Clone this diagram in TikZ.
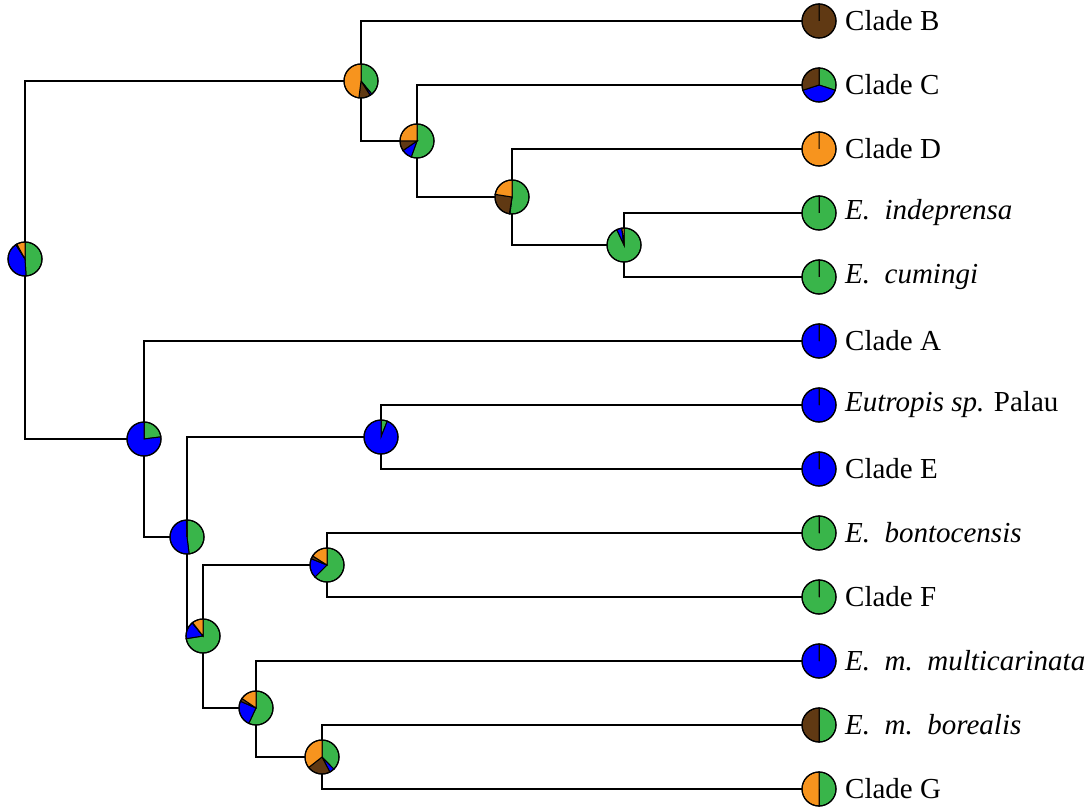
\documentclass[tikz,border=0pt]{standalone}
\usepackage{fontspec}
\setmainfont{Liberation Serif}
\definecolor{pgreen}{RGB}{57,181,74}
\definecolor{pblue}{RGB}{0,0,255}
\definecolor{pbrown}{RGB}{96,57,19}
\definecolor{porange}{RGB}{247,148,30}
\newcommand\pr{17}
\newcommand\myslice[4]{%
  \pgfmathsetmacro\sa{-90+360*#2}%
  \pgfmathsetmacro\ea{-90+360*#3}%
  \filldraw[fill=#4, draw=black, line width=1pt] (#1) -- ++(\sa:\pr) arc[start angle=\sa, end angle=\ea, radius=\pr] -- cycle;}
\newcommand\mypie[5]{%
  \pgfmathsetmacro\ca{#2}%
  \pgfmathsetmacro\cb{#2+#3}%
  \pgfmathsetmacro\cc{#2+#3+#4}%
  \edef\tmpa{\ca}\edef\tmpb{\cb}\edef\tmpc{\cc}%
  \myslice{#1}{0}{\tmpa}{pgreen}%
  \myslice{#1}{\tmpa}{\tmpb}{pblue}%
  \myslice{#1}{\tmpb}{\tmpc}{pbrown}%
  \myslice{#1}{\tmpc}{1}{porange}%
  \draw[line width=1.2pt] (#1) circle[radius=\pr];}
\tikzset{
  edge/.style={line width=2pt, line cap=rect},
  lab/.style={anchor=west, inner sep=0pt, font=\fontsize{29}{32}\selectfont}
}
\begin{document}
\begin{tikzpicture}[x=1pt,y=-1pt]
\useasboundingbox (0,0) rectangle (1087,810);
% tips
\coordinate (tB) at (819,21);
\coordinate (tC) at (819,85);
\coordinate (tD) at (819,149);
\coordinate (tI) at (819,213);
\coordinate (tCu) at (819,277);
\coordinate (tA) at (819,341);
\coordinate (tP) at (819,405);
\coordinate (tE) at (819,469);
\coordinate (tBo) at (819,533);
\coordinate (tF) at (819,597);
\coordinate (tM) at (819,661);
\coordinate (tBr) at (819,725);
\coordinate (tG) at (819,789);
% internal nodes
\coordinate (root) at (25,259);
\coordinate (n2) at (361,81);
\coordinate (n3) at (417,141);
\coordinate (n4) at (512,197);
\coordinate (n5) at (624,245);
\coordinate (n6) at (144,439);
\coordinate (n8) at (187,537);
\coordinate (n7) at (381,437);
\coordinate (n10) at (203,636);
\coordinate (n9) at (327,565);
\coordinate (n11) at (256,708);
\coordinate (n12) at (322,757);
% edges
\draw[edge] (root) |- (n2);
\draw[edge] (root) |- (n6);
\draw[edge] (n2) |- (tB);
\draw[edge] (n2) |- (n3);
\draw[edge] (n3) |- (tC);
\draw[edge] (n3) |- (n4);
\draw[edge] (n4) |- (tD);
\draw[edge] (n4) |- (n5);
\draw[edge] (n5) |- (tI);
\draw[edge] (n5) |- (tCu);
\draw[edge] (n6) |- (tA);
\draw[edge] (n6) |- (n8);
\draw[edge] (n8) |- (n7);
\draw[edge] (n8) |- (n10);
\draw[edge] (n7) |- (tP);
\draw[edge] (n7) |- (tE);
\draw[edge] (n10) |- (n9);
\draw[edge] (n10) |- (n11);
\draw[edge] (n9) |- (tBo);
\draw[edge] (n9) |- (tF);
\draw[edge] (n11) |- (tM);
\draw[edge] (n11) |- (n12);
\draw[edge] (n12) |- (tBr);
\draw[edge] (n12) |- (tG);
% internal pies: green, blue, brown, orange (clockwise from top)
\mypie{root}{0.49}{0.42}{0.01}{0.08}
\mypie{n2}{0.39}{0.02}{0.11}{0.48}
\mypie{n3}{0.555}{0.10}{0.095}{0.25}
\mypie{n4}{0.52}{0.005}{0.25}{0.225}
\mypie{n5}{0.93}{0.05}{0.0}{0.02}
\mypie{n6}{0.23}{0.77}{0.0}{0.0}
\mypie{n7}{0.06}{0.94}{0.0}{0.0}
\mypie{n8}{0.48}{0.515}{0.0}{0.005}
\mypie{n9}{0.625}{0.185}{0.03}{0.16}
\mypie{n10}{0.725}{0.165}{0.005}{0.105}
\mypie{n11}{0.57}{0.245}{0.03}{0.155}
\mypie{n12}{0.377}{0.047}{0.22}{0.356}
% tip pies
\mypie{tB}{0}{0}{1}{0}
\mypie{tC}{0.30}{0.40}{0.30}{0}
\mypie{tD}{0}{0}{0}{1}
\mypie{tI}{1}{0}{0}{0}
\mypie{tCu}{1}{0}{0}{0}
\mypie{tA}{0}{1}{0}{0}
\mypie{tP}{0}{1}{0}{0}
\mypie{tE}{0}{1}{0}{0}
\mypie{tBo}{1}{0}{0}{0}
\mypie{tF}{1}{0}{0}{0}
\mypie{tM}{0}{1}{0}{0}
\mypie{tBr}{0.5}{0}{0.5}{0}
\mypie{tG}{0.5}{0}{0}{0.5}
% labels
\node[lab] (lB) at (845,21) {Clade B};
\node[lab] (lC) at (845,85) {Clade C};
\node[lab] (lD) at (845,149) {Clade D};
\node[lab] (lI) at (845,213) {\textit{E.\ \ indeprensa}};
\node[lab] (lCu) at (845,277) {\textit{E.\ \ cumingi}};
\node[lab] (lA) at (845,341) {Clade A};
\node[lab] (lP) at (845,405) {\textit{Eutropis sp.} Palau};
\node[lab] (lE) at (845,469) {Clade E};
\node[lab] (lBo) at (845,533) {\textit{E.\ \ bontocensis}};
\node[lab] (lF) at (845,597) {Clade F};
\node[lab] (lM) at (845,661) {\textit{E.\ \ m.\ \ multicarinata}};
\node[lab] (lBr) at (845,725) {\textit{E.\ \ m.\ \ borealis}};
\node[lab] (lG) at (845,789) {Clade G};
\end{tikzpicture}
\end{document}
